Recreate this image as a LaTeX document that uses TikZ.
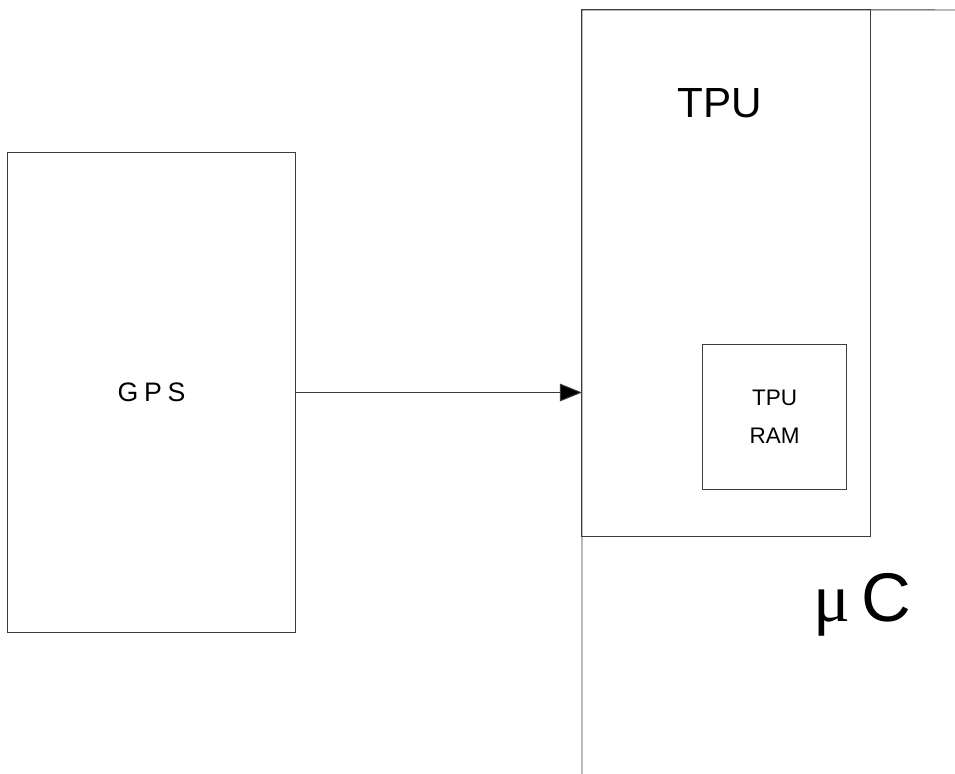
\documentclass[tikz,border=0pt]{standalone}
\usepackage{fontspec}
\setmainfont{Liberation Sans}
\newfontfamily\mufont{Liberation Serif}
\usetikzlibrary{arrows.meta}
\definecolor{linegray}{RGB}{60, 60, 60}

\begin{document}
\begin{tikzpicture}[
  x=0.025cm, y=-0.025cm,
  block/.style={rectangle, draw=linegray, line width=0.7pt,
    inner sep=0pt, outer sep=0pt, align=center},
  arr/.style={-{Triangle[length=5.5mm, width=4.4mm, fill=black]}, line width=0.7pt, color=linegray}
]
  \useasboundingbox (0,0) rectangle (955,774);
  \node[block, minimum width=7.175cm, minimum height=11.975cm,
    font=\fontsize{19}{22}\selectfont] (gps) at (151.5,392.5) {G\hspace{4pt}P\hspace{4pt}S};
  \node[block, minimum width=7.2cm, minimum height=13.15cm] (tpu) at (726,273) {};
  \node[font=\fontsize{30}{34}\selectfont] (tpulbl) at (720,103) {TPU};
  \node[block, minimum width=3.575cm, minimum height=3.6cm,
    font=\fontsize{16}{27}\selectfont] (ram) at (774.5,417) {TPU\\RAM};
  \node[font=\fontsize{49}{52}\selectfont] (mc) at (862,605) {{\mufont μ}\hspace{8pt}C};
  % microcontroller border
  \coordinate (mcbot) at (582,774);
  \coordinate (mcright) at (955,10);
  \draw[linegray, line width=0.7pt] (mcbot) -- (tpu.north west) -- (mcright);
  \draw[arr] (gps.east) -- (gps.east -| tpu.west);
\end{tikzpicture}
\end{document}
